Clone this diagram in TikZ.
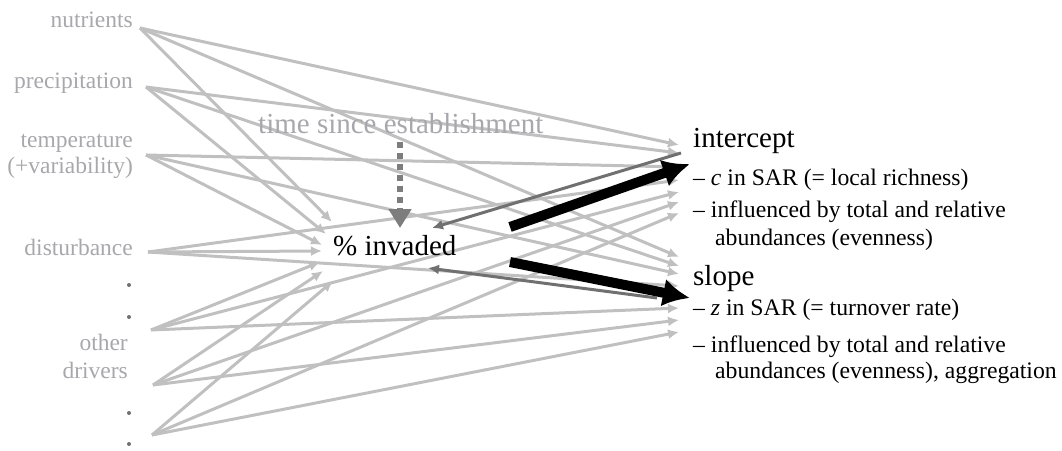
\documentclass[tikz,border=0pt]{standalone}
\usepackage{fontspec}
\setmainfont{Liberation Serif}
\usetikzlibrary{arrows.meta}

\definecolor{effgray}{RGB}{192,192,192}
\definecolor{labgray}{RGB}{168,168,172}
\definecolor{fbgray}{RGB}{112,112,112}
\definecolor{timegray}{RGB}{125,125,125}

\begin{document}
\begin{tikzpicture}[x=1pt,y=-1pt,
every node/.style={inner sep=0pt},
drv/.style={anchor=base east,text=labgray,font=\fontsize{23.5}{26}\selectfont},
dotmark/.style={circle,fill=fbgray,minimum size=4pt},
head/.style={anchor=base west,font=\fontsize{29}{32}\selectfont},
item/.style={anchor=base west,font=\fontsize{23.7}{27}\selectfont},
eff/.style={draw=effgray,line width=3pt,-{Latex[length=11pt,width=10pt]}},
fb/.style={draw=fbgray,line width=3pt,-{Latex[length=11pt,width=10pt]}},
mainfx/.style={draw=black,line width=10pt,-{Latex[length=27pt,width=28pt]}},
timefx/.style={draw=timegray,line width=6pt,dash pattern=on 6pt off 5pt,
  -{Triangle[length=19pt,width=22pt]}}
]
\useasboundingbox (0,0) rectangle (1062,450);

% driver labels
\path (133,27)  node[drv] (nutrlab) {nutrients}
      (133,88)  node[drv] (preclab) {precipitation}
      (133,147) node[drv] (templab) {temperature}
      (133,173) node[drv] (varlab)  {(+variability)}
      (133,255) node[drv] (distlab) {disturbance}
      (128,350) node[drv] (othlab)  {other}
      (128,378) node[drv] (drvlab)  {drivers};
\foreach \y [count=\k] in {285,317,413,444}
  \path (129,\y) node[dotmark] (dot\k) {};

% start points
\path (140,28)  coordinate (nutr)
      (146,87)  coordinate (prec)
      (146,155) coordinate (temp)
      (148,252) coordinate (dist)
      (151,330) coordinate (othA)
      (153,385) coordinate (othB)
      (152,435) coordinate (othC);

% end points: invaded / intercept / slope
\foreach \n/\xi/\yi/\yc/\ys in {1/332/222/145/257,2/326/234/153/266,
  3/322/245/167/274,4/322/251/180/286,5/320/262/192/308,
  6/323/271/202/320,7/333/281/213/332}
{
  \path (\xi,\yi) coordinate (inv\n)
        (679,\yc) coordinate (int\n)
        (679,\ys) coordinate (slo\n);
}

\foreach \d/\n in {nutr/1,prec/2,temp/3,dist/4,othA/5,othB/6,othC/7}
{
  \draw[eff] (\d) -- (inv\n);
  \draw[eff] (\d) -- (int\n);
  \draw[eff] (\d) -- (slo\n);
}

% centre
\path (258,133) node[head,text=labgray] (time) {time since establishment}
      (333,255) node[head] (inv) {\% invaded};

% right side
\path (693,147) node[head] (icpt)  {intercept}
      (693,185) node[item] (icptA) {– \textit{c} in SAR (= local richness)}
      (693,217) node[item] (icptB) {– influenced by total and relative}
      (715,245) node[item] (icptC) {abundances (evenness)}
      (693,285) node[head] (slp)   {slope}
      (693,315) node[item] (slpA)  {– \textit{z} in SAR (= turnover rate)}
      (693,352) node[item] (slpB)  {– influenced by total and relative}
      (715,378) node[item] (slpC)  {abundances (evenness), aggregation};

% feedbacks
\path (681,153) coordinate (fbA)
      (657,298) coordinate (fbB)
      (432,228) coordinate (invNE)
      (428,268) coordinate (invSE);
\draw[fb] (fbA) -- (invNE);
\draw[fb] (fbB) -- (invSE);

% main effects
\path (510,227) coordinate (outA)
      (510,262) coordinate (outB)
      (690,164) coordinate (icptW)
      (690,298) coordinate (slpW);
\draw[mainfx] (outA) -- (icptW);
\draw[mainfx] (outB) -- (slpW);

\path (400,142) coordinate (timeS)
      (400,228) coordinate (invN);
\draw[timefx] (timeS) -- (invN);
\end{tikzpicture}
\end{document}
